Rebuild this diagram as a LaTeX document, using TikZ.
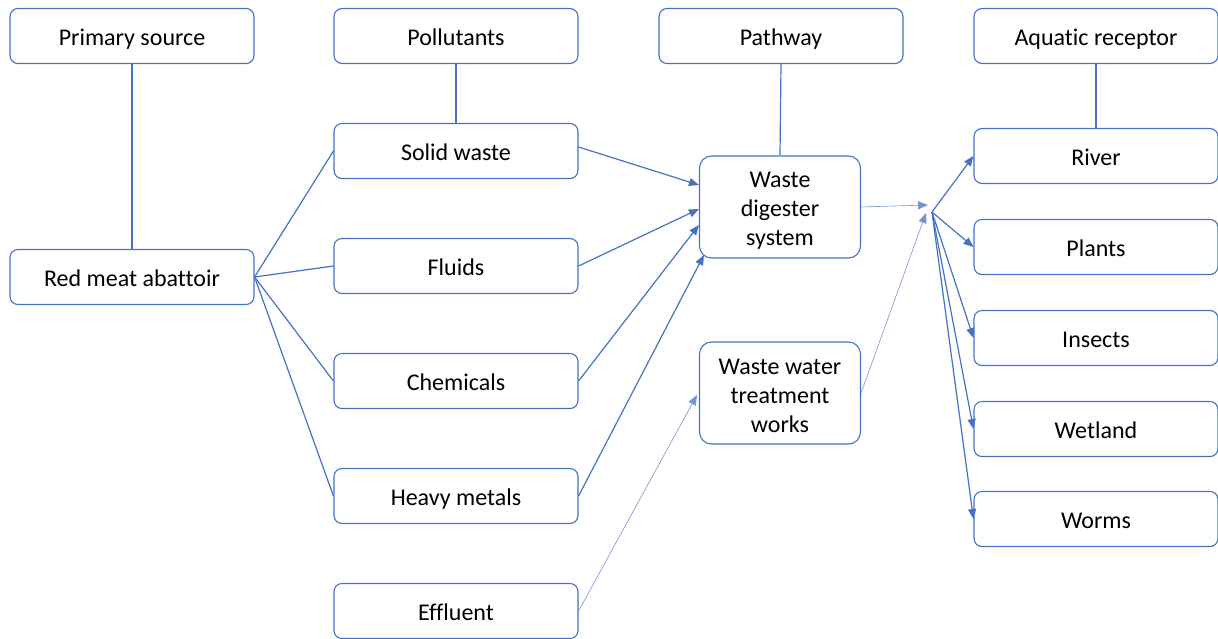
\documentclass[tikz,border=0pt]{standalone}
\usepackage{fontspec}
\setmainfont{Carlito}[Ligatures={NoCommon}]
\usetikzlibrary{arrows.meta}
\definecolor{boxblue}{HTML}{4472C4}
\tikzset{
  wide/.style={draw=boxblue, line width=1.1pt, rounded corners=8pt, fill=white,
    minimum width=244pt, minimum height=55pt, inner sep=0pt,
    text height=22pt, text depth=4pt, font=\fontsize{24}{28}\selectfont},
  mid/.style={draw=boxblue, line width=1.1pt, rounded corners=12pt, fill=white,
    minimum width=161pt, minimum height=102pt, inner sep=0pt, align=center,
    text height=80pt, font=\fontsize{24}{29}\selectfont},
  link/.style={draw=boxblue, line width=1.2pt},
  feed/.style={draw=boxblue, line width=1.2pt, -{Triangle[length=10pt,width=8pt]}},
  thinfeed/.style={draw=boxblue!75, line width=0.6pt, -{Triangle[length=10pt,width=8pt]}},
}
\begin{document}
\begin{tikzpicture}[x=1pt,y=-1pt]
\useasboundingbox (0,0) rectangle (1218,638);
\begin{scope}
\clip (0,0) rectangle (1218,638);
% column headings
\node[wide] (src)  at (132,36)  {Primary source};
\node[wide] (pol)  at (456,36)  {Pollutants};
\node[wide] (path) at (781,36)  {Pathway};
\node[wide] (rec)  at (1096,36) {Aquatic receptor};
% source
\node[wide] (abat) at (132,277) {Red meat abattoir};
% pollutants
\node[wide] (solid) at (456,151) {Solid waste};
\node[wide] (fluid) at (456,266) {Fluids};
\node[wide] (chem)  at (456,381) {Chemicals};
\node[wide] (heavy) at (456,496) {Heavy metals};
\node[wide] (eff)   at (456,611) {Effluent};
% pathways
\node[mid] (dig)  at (780,207) {Waste\\digester\\system};
\node[mid] (wwtw) at (780,393) {Waste water\\treatment\\works};
% receptors
\node[wide] (river)  at (1096,156) {River};
\node[wide] (plants) at (1096,247) {Plants};
\node[wide] (insect) at (1096,338) {Insects};
\node[wide] (wet)    at (1096,429) {Wetland};
\node[wide] (worms)  at (1096,519) {Worms};
\end{scope}

% meeting points in front of the receptors
\coordinate (hubin)  at (928,205);
\coordinate (hubin2) at (926,213);
\coordinate (hub)    at (932,212);

% headings to their first entries
\draw[link] (src.south) -- (abat.north);
\draw[link] (pol.south) -- (solid.north);
\draw[link] (path.south) -- (dig.north);
\draw[link] (rec.south) -- (river.north);

% source to pollutants
\draw[link] (abat.east) -- (solid.west);
\draw[link] (abat.east) -- (fluid.west);
\draw[link] (abat.east) -- (chem.west);
\draw[link] (abat.east) -- (heavy.west);

% pollutants to pathways
\draw[feed] ([yshift=4pt]solid.east) -- ([yshift=22pt]dig.west);
\draw[feed] (fluid.east) -- ([yshift=-2pt]dig.west);
\draw[feed] (chem.east) -- ([yshift=-18pt]dig.west);
\draw[feed] (heavy.east) -- ([xshift=5pt,yshift=-48pt]dig.west);
\draw[thinfeed] (eff.east) -- ([xshift=-2pt,yshift=-2pt]wwtw.west);

% pathways to receptors
\draw[thinfeed] (dig.east) -- (hubin);
\draw[thinfeed] (wwtw.east) -- (hubin2);
\draw[feed] (hub) -- (river.west);
\draw[feed] (hub) -- (plants.west);
\draw[feed] (hub) -- (insect.west);
\draw[feed] (hub) -- (wet.west);
\draw[feed] (hub) -- (worms.west);
\end{tikzpicture}
\end{document}
